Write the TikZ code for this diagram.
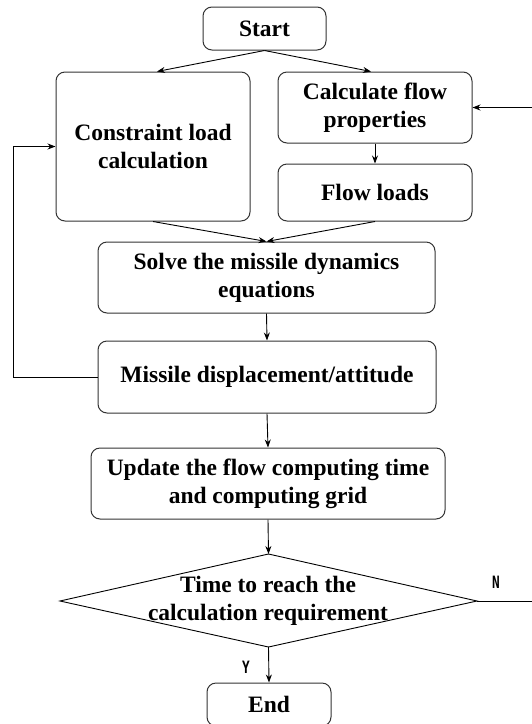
\documentclass[tikz,border=0pt]{standalone}
\usepackage{fontspec}
\setmainfont{Liberation Serif}
\newfontfamily\labelfont{DejaVu Sans Mono}
\usetikzlibrary{arrows.meta,calc}

\tikzset{
  box/.style={draw=black!80, line width=1pt, rounded corners=9pt, inner sep=0pt,
    align=center, font=\fontsize{23.5}{28}\selectfont\bfseries},
  link/.style={line width=0.9pt, -{Stealth[length=8pt,width=6pt]}},
  plain/.style={line width=0.9pt},
  yn/.style={font=\labelfont\fontsize{17}{19}\selectfont\bfseries, inner sep=0pt}
}
% narrow branch letters
\newcommand{\branchtext}[1]{\scalebox{0.75}[1]{#1}}

\begin{document}
\begin{tikzpicture}[x=1pt,y=-1pt]
\useasboundingbox (0,0) rectangle (532,724);

% process boxes
\node[box, minimum width=123pt, minimum height=43pt] (start) at (264.5,28.5) {Start};
\node[box, minimum width=194pt, minimum height=149pt] (cons) at (153,146.5) {Constraint load\\calculation};
\node[box, minimum width=194pt, minimum height=71pt] (calcp) at (375,107.5) {Calculate flow\\properties};
\node[box, minimum width=194pt, minimum height=57pt] (flow) at (375,192.5) {Flow loads};
\node[box, minimum width=337pt, minimum height=71pt] (solve) at (266.5,277.5) {Solve the missile dynamics\\equations};
\node[box, minimum width=338pt, minimum height=72pt] (disp) at (267,377) {Missile displacement/attitude};
\node[box, minimum width=354pt, minimum height=71pt] (upd) at (268,483.5) {Update the flow computing time\\and computing grid};

% decision diamond
\coordinate (dtop) at (268.5,554);
\coordinate (dbot) at (268.5,647);
\coordinate (dleft) at (60,601);
\coordinate (dright) at (477,601);
\draw[line width=0.9pt] (dtop) -- (dright) -- (dbot) -- (dleft) -- cycle;
\node[align=center, inner sep=0pt, font=\fontsize{23.5}{28}\selectfont\bfseries] (dtext) at (268,601)
  {Time to reach the\\calculation requirement};

\node[box, minimum width=124pt, minimum height=43pt] (endn) at (269,704.5) {End};

% connectors
\draw[link] (start.south) -- ([xshift=4pt]cons.north);
\draw[link] (start.south) -- ([xshift=-4pt]calcp.north);
\draw[link] (calcp.south) -- (flow.north);
\draw[link] (cons.south) -- (solve.north);
\draw[link] (flow.south) -- (solve.north);
\draw[link] (solve.south) -- (disp.north);
\draw[link] (disp.south) -- (upd.north);
\draw[link] (upd.south) -- (dtop);
\draw[link] (dbot) -- (endn.north);

% feedback to the constraint load
\draw[link] (disp.west) -- ++(-84,0) |- (cons.west);

% feedback from the decision (N branch)
\coordinate (nedge) at (532,601);
\coordinate (tedge) at (532,107.5);
\draw[plain] (dright) -- (nedge);
\draw[link] (tedge) -- (calcp.east);

% branch labels
\node[yn] (nlab) at (496,582) {\branchtext{N}};
\node[yn] (ylab) at (246,667) {\branchtext{Y}};
\end{tikzpicture}
\end{document}
